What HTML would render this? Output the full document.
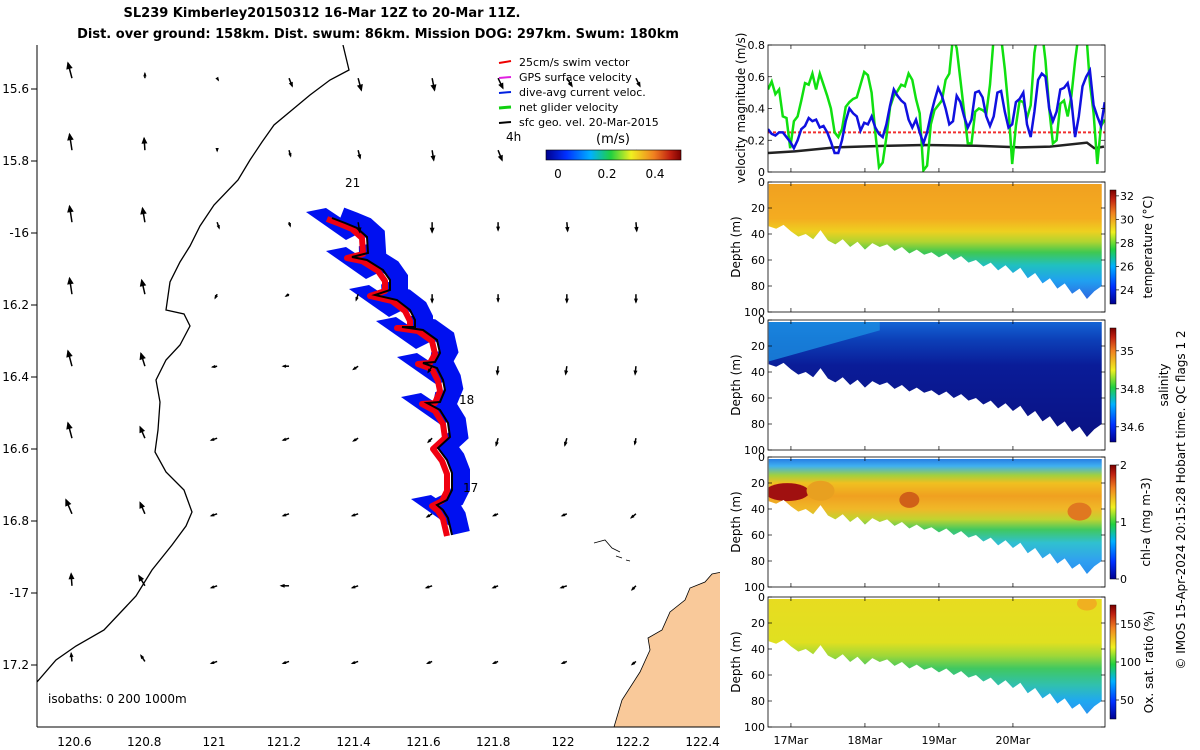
<!DOCTYPE html>
<html><head><meta charset="utf-8"><style>
html,body{margin:0;padding:0;background:#fff;}
svg{display:block;font-family:"DejaVu Sans","Liberation Sans",sans-serif;}
</style></head><body>
<svg id="fig" width="1200" height="750" viewBox="0 0 1200 750" xmlns="http://www.w3.org/2000/svg">
<defs>
<linearGradient id="jet" x1="0" y1="0" x2="1" y2="0">
<stop offset="0" stop-color="#00008f"/><stop offset="0.15" stop-color="#0030ff"/><stop offset="0.33" stop-color="#00b0ff"/><stop offset="0.48" stop-color="#20d040"/><stop offset="0.63" stop-color="#f0f020"/><stop offset="0.8" stop-color="#f08020"/><stop offset="0.92" stop-color="#c02010"/><stop offset="1" stop-color="#7a0000"/>
</linearGradient>
<linearGradient id="jetv" x1="0" y1="1" x2="0" y2="0">
<stop offset="0" stop-color="#00008f"/><stop offset="0.15" stop-color="#0030ff"/><stop offset="0.33" stop-color="#00b0ff"/><stop offset="0.48" stop-color="#20d040"/><stop offset="0.63" stop-color="#f0f020"/><stop offset="0.8" stop-color="#f08020"/><stop offset="0.92" stop-color="#c02010"/><stop offset="1" stop-color="#7a0000"/>
</linearGradient>
<clipPath id="mapclip"><rect x="37" y="45" width="683" height="682"/></clipPath>
<clipPath id="p1clip"><rect x="768" y="45" width="337" height="127"/></clipPath>
</defs>
<text x="322" y="17" text-anchor="middle" font-size="13" font-weight="bold">SL239 Kimberley20150312 16-Mar 12Z to 20-Mar 11Z.</text>
<text x="378" y="38" text-anchor="middle" font-size="13" font-weight="bold">Dist. over ground: 158km. Dist. swum: 86km. Mission DOG: 297km. Swum: 180km</text>

<g id="map">
<g clip-path="url(#mapclip)">
<path fill="#f9c99a" stroke="#000" stroke-width="0.8" d="M614,727 L622,700 L640,672 L650,650 L648,638 L662,630 L670,612 L685,600 L690,588 L705,582 L712,574 L722,572 L722,727 Z"/>
<path fill="none" stroke="#000" stroke-width="0.8" d="M594,543 L605,540 L612,548 L620,552 M616,556 L622,558 M626,560 L630,561"/>
<path fill="none" stroke="#000" stroke-width="1.3" d="M343,45 L349,70 L330,80 L310,95 L292,110 L274,125 L262,142 L250,160 L238,180 L214,205 L200,226 L190,246 L180,262 L170,282 L166,310 L184,314 L190,326 L180,345 L166,360 L156,380 L160,402 L158,430 L155,452 L166,472 L184,490 L192,512 L186,526 L172,545 L152,570 L136,596 L104,630 L76,646 L56,660 L37,682"/>
<g id="swaths"></g>
<g id="vectors"></g>
</g>
<line x1="37" y1="45" x2="37" y2="727" stroke="#000" stroke-width="1"/>
<line x1="37" y1="727" x2="720" y2="727" stroke="#000" stroke-width="1"/>
<g id="mapticks" font-size="12"></g>
<text x="345" y="187" font-size="12">21</text>
<text x="459" y="404" font-size="12">18</text>
<text x="463" y="492" font-size="12">17</text>
<text x="506" y="141" font-size="12">4h</text>
<g id="legend" font-size="11">
<line x1="499" y1="63" x2="511" y2="61" stroke="#e00" stroke-width="2"/><text x="519" y="66">25cm/s swim vector</text>
<line x1="499" y1="78" x2="511" y2="77" stroke="#e020e0" stroke-width="2"/><text x="519" y="81">GPS surface velocity</text>
<line x1="499" y1="93" x2="511" y2="92" stroke="#0020e0" stroke-width="2"/><text x="519" y="96">dive-avg current veloc.</text>
<line x1="499" y1="108" x2="511" y2="107" stroke="#10d010" stroke-width="3"/><text x="519" y="111">net glider velocity</text>
<line x1="499" y1="123" x2="511" y2="122" stroke="#000" stroke-width="2"/><text x="519" y="126">sfc geo. vel. 20-Mar-2015</text>
</g>
<text x="596" y="143" font-size="13">(m/s)</text>
<rect x="546" y="150" width="135" height="10" fill="url(#jet)" stroke="#000" stroke-width="0.6"/>
<g font-size="12" text-anchor="middle">
<text x="558" y="178">0</text><text x="607" y="178">0.2</text><text x="655" y="178">0.4</text>
</g>
</g>

<g id="right"></g>
<text transform="translate(1185,500) rotate(-90)" text-anchor="middle" font-size="12">© IMOS 15-Apr-2024 20:15:28 Hobart time. QC flags 1  2</text>
</svg>
<script>
// ---------- velocity panel data ----------
const velT0 = 16.69;         // day of March of first sample
const velDt = 0.05;          // days between samples
const netGliderVel = [0.52,0.57,0.49,0.52,0.35,0.34,0.15,0.32,0.35,0.45,0.56,0.55,0.62,0.52,0.62,0.55,0.48,0.40,0.25,0.22,0.27,0.41,0.44,0.46,0.47,0.55,0.63,0.61,0.50,0.25,0.03,0.06,0.22,0.41,0.48,0.51,0.55,0.54,0.62,0.58,0.46,0.37,0.01,0.04,0.30,0.39,0.42,0.45,0.58,0.62,0.85,0.78,0.58,0.38,0.18,0.18,0.38,0.40,0.39,0.37,0.55,0.85,0.90,0.85,0.65,0.40,0.05,0.29,0.45,0.44,0.34,0.42,0.75,0.90,0.90,0.70,0.40,0.18,0.20,0.43,0.45,0.35,0.48,0.70,0.88,0.90,0.88,0.56,0.37,0.05,0.29,0.33];
const diveAvgCurrent = [0.27,0.24,0.23,0.25,0.25,0.22,0.19,0.15,0.20,0.27,0.29,0.34,0.32,0.33,0.28,0.29,0.25,0.19,0.12,0.12,0.20,0.32,0.40,0.37,0.35,0.26,0.31,0.30,0.35,0.28,0.24,0.22,0.30,0.42,0.52,0.48,0.45,0.43,0.33,0.28,0.33,0.25,0.18,0.25,0.36,0.45,0.53,0.48,0.40,0.30,0.32,0.48,0.44,0.35,0.28,0.33,0.50,0.51,0.47,0.35,0.29,0.35,0.50,0.51,0.38,0.28,0.30,0.44,0.46,0.50,0.30,0.22,0.38,0.58,0.62,0.60,0.40,0.32,0.38,0.52,0.53,0.56,0.45,0.22,0.35,0.54,0.60,0.64,0.42,0.35,0.29,0.44];
const geoVelTimes = [16.69,17.05,17.6,18.3,18.8,19.5,20.1,20.5,21.0,21.1,21.23];
const geoVel = [0.12,0.13,0.155,0.165,0.17,0.165,0.155,0.16,0.185,0.15,0.16];
const swimSpeed = 0.25;
const velTicks = [0,0.2,0.4,0.6,0.8];
const dayTicks = [17,18,19,20];
const dayTickLabels = ["17Mar","18Mar","19Mar","20Mar"];
// ---------- section panels data ----------
const profT0 = 16.7, profDt = 0.1;
const profileMaxDepth = [34,36,33,38,42,40,44,37,45,48,44,50,46,52,47,50,48,53,50,55,52,56,54,58,55,60,57,62,60,65,62,68,64,70,66,74,70,78,74,82,78,86,82,90,84,80];
const depthTicks = [0,20,40,60,80,100];
const tempTicks = [24,26,28,30,32];
const salTicks = [34.6,34.8,35];
const chlTicks = [0,1,2];
const oxyTicks = [50,100,150];
// ---------- map data ----------
const vecLons = [120.593,120.802,121.009,121.215,121.413,121.625,121.814,122.011,122.209];
const vecLats = [-15.57,-15.77,-15.97,-16.17,-16.37,-16.57,-16.78,-16.98,-17.19];
const vecU = [
[-0.1,0.0,0.03,0.08,0.08,0.06,0.12,0.13,0.1],
[-0.06,-0.02,0,0.04,0.05,0.04,0.1,0.12,0.1],
[-0.06,-0.06,0.05,0.03,0.04,0.0,0.0,0.02,0.02],
[-0.06,-0.08,-0.05,-0.08,-0.05,0,0,0,0],
[-0.1,-0.1,-0.12,-0.15,-0.12,-0.1,-0.02,-0.03,-0.02],
[-0.1,-0.12,-0.15,-0.15,-0.12,-0.1,-0.05,-0.05,-0.03],
[-0.15,-0.12,-0.15,-0.15,-0.15,-0.13,-0.12,-0.12,-0.12],
[-0.02,-0.15,-0.15,-0.2,-0.15,-0.15,-0.13,-0.15,-0.1],
[-0.02,-0.1,-0.15,-0.15,-0.15,-0.12,-0.12,-0.12,-0.1]];
const vecV = [
[0.38,0.12,-0.05,-0.2,-0.3,-0.3,-0.25,-0.2,-0.2],
[0.4,0.3,-0.02,-0.15,-0.2,-0.25,-0.25,-0.2,-0.12],
[0.4,0.35,-0.15,-0.1,-0.25,-0.25,-0.2,-0.22,-0.22],
[0.4,0.35,-0.1,-0.05,-0.15,-0.2,-0.18,-0.2,-0.2],
[0.38,0.32,-0.02,0,-0.08,-0.15,-0.2,-0.2,-0.2],
[0.38,0.28,-0.05,-0.05,-0.07,-0.1,-0.18,-0.18,-0.15],
[0.35,0.28,-0.05,-0.05,-0.05,-0.08,-0.05,-0.05,-0.1],
[0.3,0.25,-0.05,0,-0.05,-0.05,-0.05,-0.05,-0.1],
[0.2,0.15,-0.05,-0.05,-0.05,-0.05,-0.05,-0.05,-0.08]];
const lonTicks = [120.6,120.8,121,121.2,121.4,121.6,121.8,122,122.2,122.4];
const lonTickLabels = ["120.6","120.8","121","121.2","121.4","121.6","121.8","122","122.2","122.4"];
const latTicks = [-15.6,-15.8,-16,-16.2,-16.4,-16.6,-16.8,-17,-17.2];
const latTickLabels = ["15.6","15.8","-16","16.2","16.4","16.6","16.8","-17","17.2"];

const NS="http://www.w3.org/2000/svg";
function mk(tag,attrs,parent){const e=document.createElementNS(NS,tag);for(const k in attrs)e.setAttribute(k,attrs[k]);if(parent)parent.appendChild(e);return e;}
const lonX = lon => 214 + (lon-121)*349;
const latY = lat => 233 - (lat+16)*360;

// map ticks
const mt=document.getElementById('mapticks');
lonTicks.forEach((l,i)=>{const x=lonX(l);
 const tx=mk('text',{x:x,y:746,'text-anchor':'middle'},mt);tx.textContent=lonTickLabels[i];});
latTicks.forEach((l,i)=>{const y=latY(l);
 const t=mk('line',{x1:31,y1:y,x2:37,y2:y,stroke:'#000','stroke-width':1},mt);
 const tx=mk('text',{x:29,y:y+4,'text-anchor':'end'},mt);tx.textContent=latTickLabels[i];});
const iso=mk('text',{x:48,y:703,'font-size':12},mt);iso.textContent='isobaths: 0   200  1000m';



// vectors
const vg=document.getElementById('vectors');
const vs=40;
vecLats.forEach((la,r)=>vecLons.forEach((lo,c)=>{
 const x0=lonX(lo),y0=latY(la),dx=vecU[r][c]*vs,dy=-vecV[r][c]*vs;
 const x1=x0+dx,y1=y0+dy,L=Math.hypot(dx,dy)||1,ux=dx/L,uy=dy/L,h=Math.max(3,Math.min(6,L*0.45));
 const g=mk('g',{},vg);
 
 
 mk('line',{x1:x0,y1:y0,x2:x1,y2:y1,stroke:'#000','stroke-width':1.5},g);
 mk('polygon',{points:`${x1+ux*1.5},${y1+uy*1.5} ${x1-ux*h-uy*h*0.55},${y1-uy*h+ux*h*0.55} ${x1-ux*h+uy*h*0.55},${y1-uy*h-ux*h*0.55}`,fill:'#000'},g);
}));

// glider swaths and track
const sw=document.getElementById('swaths');
const track=[[332,218],[345,223],[357,228],[367,237],[368,253],[352,257],[367,260],[383,270],[390,280],[390,290],[375,295],[397,300],[410,310],[415,320],[415,327],[402,327],[423,330],[437,340],[440,353],[435,362],[423,363],[437,368],[443,380],[445,390],[440,402],[427,403],[440,410],[448,423],[450,437],[438,448],[447,460],[452,473],[452,490],[447,500],[437,505],[443,510],[448,518],[452,535]];
const turns=[[332,218],[352,257],[375,295],[402,327],[423,363],[427,403],[437,505]];
const ptsOff=(o)=>track.map(p=>(p[0]+o[0])+','+(p[1]+o[1])).join(' ');
const blueSwath=mk('polyline',{points:ptsOff([9,-2]),fill:'none',stroke:'#0010f0','stroke-width':18,'stroke-linejoin':'miter','stroke-miterlimit':3},sw);


turns.forEach(p=>{const f=mk('polygon',{points:`${p[0]-26},${p[1]-6} ${p[0]-6},${p[1]-10} ${p[0]+30},${p[1]+14} ${p[0]+14},${p[1]+22}`,fill:'#0010f0'},sw);
 });
const redSwath=mk('polyline',{points:ptsOff([-5,1]),fill:'none',stroke:'#f00010','stroke-width':6,'stroke-linejoin':'round'},sw);


const trk=mk('polyline',{points:ptsOff([0,0]),fill:'none',stroke:'#000','stroke-width':2},sw);



// ---------- right panels ----------
const R=document.getElementById('right');
const PX0=768,PX1=1105;
const tX = t => PX0 + (t-16.69)*74;
function yTicks(vals,labels,yf){vals.forEach((v,i)=>{const y=yf(v);
 const l=mk('line',{x1:PX0,y1:y,x2:PX0+4,y2:y,stroke:'#000','stroke-width':0.7},R);
 const l2=mk('line',{x1:PX1,y1:y,x2:PX1-4,y2:y,stroke:'#000','stroke-width':0.7},R);
 const tx=mk('text',{x:765,y:y+4,'text-anchor':'end','font-size':11},R);tx.textContent=labels[i];});}
function xTicks(top,bot){dayTicks.forEach(d=>{const x=tX(d);
 const a=mk('line',{x1:x,y1:bot,x2:x,y2:bot-4,stroke:'#000','stroke-width':0.7},R);
 const b=mk('line',{x1:x,y1:top,x2:x,y2:top+4,stroke:'#000','stroke-width':0.7},R);});}
function ylabel(txt,x,y,name){const t=mk('text',{transform:`translate(${x},${y}) rotate(-90)`,'text-anchor':'middle','font-size':12},R);t.textContent=txt;}

// panel 1: velocity
const v0=172,v1=45;
const vY = v => v0 - v/0.8*(v0-v1);
const p1=mk('g',{'clip-path':'url(#p1clip)'},R);


const swimLine=mk('line',{x1:PX0,x2:PX1,y1:vY(swimSpeed),y2:vY(swimSpeed),stroke:'#f03030','stroke-width':2,'stroke-dasharray':'3,2'},p1);


const geoLine=mk('polyline',{points:geoVelTimes.map((t,i)=>tX(t)+','+vY(geoVel[i])).join(' '),fill:'none',stroke:'#222','stroke-width':2.5},p1);


const greenLine=mk('polyline',{points:netGliderVel.map((v,i)=>tX(velT0+i*velDt)+','+vY(v)).join(' '),fill:'none',stroke:'#10e010','stroke-width':2.5},p1);


const blueLine=mk('polyline',{points:diveAvgCurrent.map((v,i)=>tX(velT0+i*velDt)+','+vY(v)).join(' '),fill:'none',stroke:'#1010e0','stroke-width':2.5},p1);


const b1=mk('rect',{x:PX0,y:v1,width:PX1-PX0,height:v0-v1,fill:'none',stroke:'#000','stroke-width':0.8},R);


yTicks(velTicks,velTicks.map(String),vY);
xTicks(v1,v0);
ylabel('velocity magnitude (m/s)',745,108,'velocity-y-title');

// section panels
const panels=[
 {top:182,name:'temperature',stops:[[0,'#f0a020'],[0.28,'#f4ac20'],[0.38,'#eed020'],[0.46,'#b0d430'],[0.54,'#40c850'],[0.64,'#20c0c0'],[0.76,'#20a0f0'],[0.92,'#3060e0']],
  ticks:tempTicks,lo:22.8,hi:32.5,label:'temperature (°C)',lx:1152},
 {top:320,name:'salinity',stops:[[0,'#1468d8'],[0.15,'#0c40b8'],[0.35,'#0a1c98'],[1,'#0a1080']],
  ticks:salTicks,lo:34.52,hi:35.12,label:'salinity',lx:1168},
 {top:457,name:'chl-a',stops:[[0,'#2070e0'],[0.07,'#40b0f0'],[0.14,'#a0d040'],[0.2,'#f0c020'],[0.3,'#f0a020'],[0.4,'#f0b828'],[0.48,'#c0d430'],[0.56,'#40c860'],[0.66,'#30c0d0'],[0.8,'#30a0f0'],[1,'#2080f0']],
  ticks:chlTicks,lo:0,hi:2,label:'chl-a (mg m-3)',lx:1150},
 {top:597,name:'oxygen',stops:[[0,'#e8dc20'],[0.35,'#e0e020'],[0.45,'#a0d838'],[0.55,'#40c860'],[0.68,'#30c0b0'],[0.8,'#20a8f0'],[1,'#3080f0']],
  ticks:oxyTicks,lo:25,hi:175,label:'Ox. sat. ratio (%)',lx:1153}];
const defs=document.querySelector('defs');
panels.forEach((P,pi)=>{
 const top=P.top,bot=top+130,dY=d=>top+d/100*130;
 const gid='g'+pi;
 const lg=mk('linearGradient',{id:gid,gradientUnits:'userSpaceOnUse',x1:0,y1:top,x2:0,y2:bot},defs);
 P.stops.forEach(s=>mk('stop',{offset:s[0],'stop-color':s[1]},lg));
 const cid='c'+pi;
 const cp=mk('clipPath',{id:cid},defs);
 const pts=[tX(profT0)+','+(top+2)];
 profileMaxDepth.forEach((d,i)=>pts.push(tX(profT0+i*profDt)+','+dY(d)));
 pts.push(tX(profT0+(profileMaxDepth.length-1)*profDt)+','+(top+2));
 mk('polygon',{points:pts.join(' ')},cp);
 const g=mk('g',{'clip-path':`url(#${cid})`},R);
 
 
 mk('rect',{x:PX0,y:top,width:PX1-PX0,height:130,fill:`url(#${gid})`},g);
 if(pi===1){mk('polygon',{points:`${PX0},${top} ${tX(18.2)},${top} ${tX(18.2)},${dY(8)} ${PX0},${dY(32)}`,fill:'#1a8ce0',opacity:0.8},g);}
 if(pi===2){
  mk('ellipse',{cx:tX(16.95),cy:dY(27),rx:22,ry:9,fill:'#a01010'},g);
  mk('ellipse',{cx:tX(17.4),cy:dY(26),rx:14,ry:10,fill:'#e8a020'},g);
  mk('ellipse',{cx:tX(18.6),cy:dY(33),rx:10,ry:8,fill:'#d06018'},g);
  mk('ellipse',{cx:tX(20.9),cy:dY(42),rx:12,ry:9,fill:'#e07820'},g);
 }
 if(pi===3){mk('ellipse',{cx:tX(21.0),cy:dY(5),rx:10,ry:7,fill:'#f0b020'},g);}
 const bx=mk('rect',{x:PX0,y:top,width:PX1-PX0,height:130,fill:'none',stroke:'#000','stroke-width':0.8},R);
 
 
 yTicks(depthTicks,depthTicks.map(String),dY);
 xTicks(top,bot);
 ylabel('Depth (m)',740,top+65,P.name+'-y-title');
 const cbT=top+8,cbB=bot-8;
 const cb=mk('rect',{x:1110,y:cbT,width:6,height:cbB-cbT,fill:'url(#jetv)',stroke:'#000','stroke-width':0.5},R);
 
 
 P.ticks.forEach(v=>{const y=cbB-(v-P.lo)/(P.hi-P.lo)*(cbB-cbT);
  const tl=mk('line',{x1:1116,y1:y,x2:1119,y2:y,stroke:'#000','stroke-width':0.7},R);
  const tx=mk('text',{x:1120,y:y+4,'font-size':11},R);tx.textContent=String(v);});
 ylabel(P.label,P.lx,top+65,P.name+'-colorbar-title');
});
dayTicks.forEach((d,i)=>{const t=mk('text',{x:tX(d),y:744,'text-anchor':'middle','font-size':11},R);t.textContent=dayTickLabels[i];});
</script>
</body></html>
